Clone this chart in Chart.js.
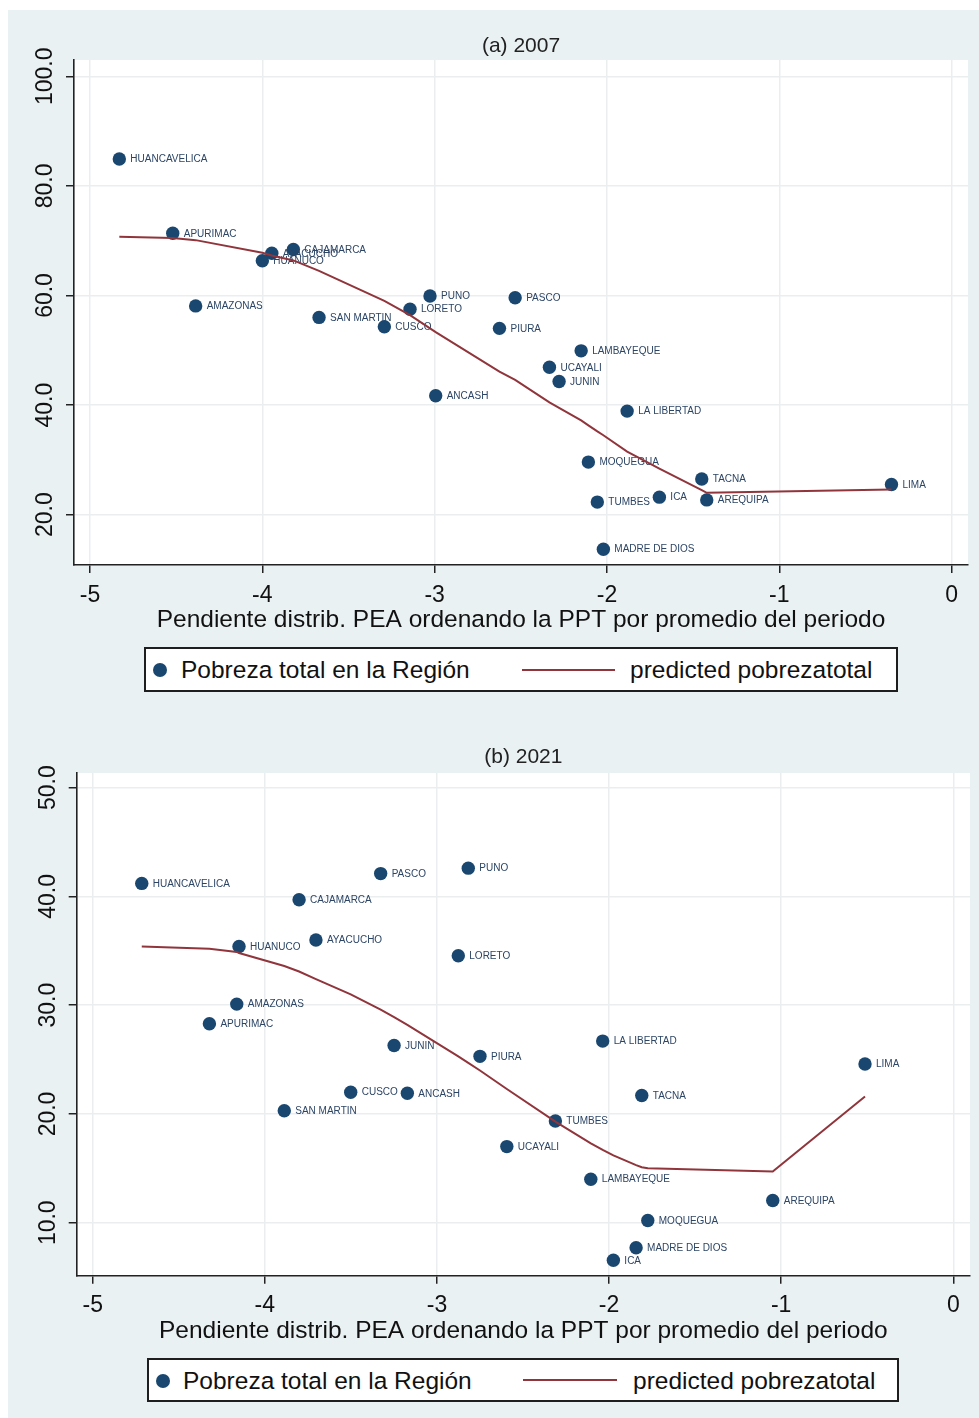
<!DOCTYPE html>
<html><head><meta charset="utf-8">
<script src="https://cdn.jsdelivr.net/npm/chart.js@4.4.1/dist/chart.umd.min.js"></script>
<style>
html,body{margin:0;padding:0;background:#fff;}
body{width:979px;height:1418px;position:relative;overflow:hidden;font-family:'Liberation Sans',Arial,sans-serif;}
#bg{position:absolute;left:8px;top:10px;width:971px;height:1408px;background:#eaf1f3;}
canvas{position:absolute;}
.legend{position:absolute;box-sizing:border-box;border:2px solid #1e1e1e;background:#fff;}
.legend .dot{position:absolute;width:14px;height:14px;border-radius:50%;background:#1a476f;}
.legend .ln{position:absolute;height:2px;background:#90353b;}
.legend .txt{position:absolute;font-size:24.5px;line-height:24.5px;color:#111;white-space:nowrap;}
</style></head>
<body>
<div id="bg"></div>
<canvas id="c1" width="971" height="630" style="left:8px;top:10px"></canvas>
<canvas id="c2" width="971" height="640" style="left:8px;top:710px"></canvas>
<div class="legend" style="left:144px;top:647px;width:754px;height:45px">
  <div class="dot" style="left:7px;top:14px"></div>
  <div class="txt" style="left:35px;top:8.5px">Pobreza total en la Región</div>
  <div class="ln" style="left:376px;top:20px;width:93px"></div>
  <div class="txt" style="left:484px;top:8.5px">predicted pobrezatotal</div>
</div>
<div class="legend" style="left:147px;top:1358px;width:752px;height:44px">
  <div class="dot" style="left:7px;top:14px"></div>
  <div class="txt" style="left:34px;top:8.5px">Pobreza total en la Región</div>
  <div class="ln" style="left:374px;top:19px;width:94px"></div>
  <div class="txt" style="left:484px;top:8.5px">predicted pobrezatotal</div>
</div>
<script>
// ---------------- DATA ----------------
const xTicks = [-5, -4, -3, -2, -1, 0];

const regions2007 = ["HUANCAVELICA","APURIMAC","AYACUCHO","HUANUCO","CAJAMARCA","AMAZONAS","SAN MARTIN","CUSCO","PUNO","LORETO","PASCO","PIURA","LAMBAYEQUE","UCAYALI","JUNIN","ANCASH","LA LIBERTAD","MOQUEGUA","TACNA","LIMA","TUMBES","ICA","AREQUIPA","MADRE DE DIOS"];
const slope2007 = [-4.83,-4.52,-3.945,-4.00,-3.82,-4.387,-3.671,-3.292,-3.027,-3.143,-2.533,-2.624,-2.150,-2.334,-2.278,-2.994,-1.883,-2.108,-1.450,-0.349,-2.056,-1.696,-1.421,-2.021];
const poverty2007 = [84.9,71.35,67.7,66.35,68.4,58.1,56.0,54.3,59.9,57.5,59.6,54.0,49.9,46.9,44.3,41.7,38.9,29.6,26.5,25.5,22.3,23.2,22.7,13.7];
const predicted2007 = [70.7,70.5,67.3,67.8,66.4,70.1,64.5,59.0,54.0,56.4,44.6,46.1,37.2,40.5,39.5,53.3,31.5,36.3,24.5,24.6,35.2,28.4,24.0,34.5];
const yTicks2007 = [20, 40, 60, 80, 100];

const regions2021 = ["HUANCAVELICA","PASCO","PUNO","CAJAMARCA","HUANUCO","AYACUCHO","LORETO","AMAZONAS","APURIMAC","JUNIN","PIURA","LA LIBERTAD","LIMA","CUSCO","ANCASH","SAN MARTIN","TACNA","TUMBES","UCAYALI","LAMBAYEQUE","AREQUIPA","MOQUEGUA","MADRE DE DIOS","ICA"];
const slope2021 = [-4.715,-3.327,-2.818,-3.801,-4.150,-3.703,-2.876,-4.163,-4.322,-3.249,-2.750,-2.037,-0.513,-3.501,-3.172,-3.887,-1.810,-2.312,-2.594,-2.106,-1.049,-1.775,-1.843,-1.975];
const poverty2021 = [41.2,42.1,42.6,39.7,35.4,36.0,34.55,30.1,28.3,26.3,25.3,26.7,24.6,22.0,21.9,20.3,21.7,19.35,17.0,14.0,12.05,10.2,7.7,6.55];
const predicted2021 = [35.4,29.6,24.7,33.1,34.8,32.4,25.3,34.9,35.2,28.9,24.0,16.7,21.6,31.0,28.2,33.6,15.1,19.3,22.3,17.3,14.7,15.0,15.3,16.2];
const yTicks2021 = [10, 20, 30, 40, 50];

const titles = ["(a) 2007", "(b) 2021"];
const xAxisTitle = "Pendiente distrib. PEA ordenando la PPT por promedio del periodo";
const seriesNames = ["Pobreza total en la Región", "predicted pobrezatotal"];

// ---------------- STYLE / LAYOUT ----------------
const FONT = "'Liberation Sans', Arial, Helvetica, sans-serif";
Chart.defaults.font.family = FONT;
const NAVY = '#1a476f', MAROON = '#90353b';

const areaBg = {
  id: 'areaBg',
  beforeDraw(chart) {
    const {ctx, chartArea: a} = chart;
    ctx.save(); ctx.fillStyle = '#ffffff';
    ctx.fillRect(a.left, a.top, a.right - a.left, a.bottom - a.top);
    ctx.restore();
  }
};
const pointLabels = {
  id: 'pointLabels',
  afterDatasetDraw(chart, args) {
    const ds = chart.data.datasets[args.index];
    if (!ds.names) return;
    const ctx = chart.ctx;
    ctx.save();
    ctx.font = '10px ' + FONT;
    ctx.fillStyle = '#2c4565';
    ctx.textBaseline = 'middle';
    ctx.textAlign = 'left';
    args.meta.data.forEach((el, i) => ctx.fillText(ds.names[i], el.x + 11, el.y + 0.5));
    ctx.restore();
  }
};

function makeChart(id, names, xs, ys, preds, yTicks, title, L) {
  const order = xs.map((v, i) => i).sort((a, b) => xs[a] - xs[b]);
  const lineData = order.map(i => ({x: xs[i], y: preds[i]}));
  const ptData = xs.map((v, i) => ({x: v, y: ys[i]}));
  return new Chart(document.getElementById(id), {
    type: 'scatter',
    data: {
      datasets: [
        {type: 'line', label: seriesNames[1], data: lineData, showLine: true, borderColor: MAROON,
         borderWidth: 2, pointRadius: 0, tension: 0, fill: false},
        {type: 'scatter', label: seriesNames[0], data: ptData, names: names, backgroundColor: NAVY,
         borderWidth: 0, pointRadius: 6.7}
      ]
    },
    options: {
      responsive: false, animation: false, events: [], devicePixelRatio: 1,
      layout: {padding: {left: 0, right: L.padRight, top: 0, bottom: 0}},
      plugins: {
        legend: {display: false}, tooltip: {enabled: false},
        title: {display: true, text: title, fullSize: false, color: '#222',
                font: {size: 21, weight: 'normal'}, padding: {top: L.titleTop, bottom: L.titleBottom}}
      },
      scales: {
        x: {
          type: 'linear', min: L.xMin, max: L.xMax,
          afterBuildTicks: s => { s.ticks = xTicks.map(v => ({value: v})); },
          afterFit: s => { s.height = L.xAxisH; },
          ticks: {color: '#111', font: {size: 23}, padding: L.xTickPad, maxRotation: 0, autoSkip: false,
                  callback: v => String(v)},
          grid: {color: '#ebeeef', lineWidth: 1.5, tickColor: '#222', tickLength: 8, tickWidth: 1.5},
          border: {display: true, color: '#222', width: 1.6},
          title: {display: true, text: xAxisTitle, color: '#111', font: {size: 24.5},
                  padding: {top: 0, bottom: L.xTitleBottom}}
        },
        y: {
          type: 'linear', min: L.yMin, max: L.yMax,
          afterBuildTicks: s => { s.ticks = yTicks.map(v => ({value: v})); },
          afterFit: s => { s.width = L.yAxisW; },
          ticks: {color: '#111', font: {size: 23}, padding: L.yTickPad, minRotation: 90, maxRotation: 90,
                  crossAlign: 'center', autoSkip: false, callback: v => Number(v).toFixed(1)},
          grid: {color: '#ebeeef', lineWidth: 1.5, tickColor: '#222', tickLength: 8, tickWidth: 1.5},
          border: {display: true, color: '#222', width: 1.6}
        }
      }
    },
    plugins: [areaBg, pointLabels]
  });
}

makeChart('c1', regions2007, slope2007, poverty2007, predicted2007, yTicks2007, titles[0], {
  xMin: -5.093, xMax: 0.095, yMin: 10.82, yMax: 102.97,
  padRight: 11, titleTop: 23.9, titleBottom: 0.9, xAxisH: 75, xTickPad: 8.7, xTitleBottom: 5.3,
  yAxisW: 66, yTickPad: -8.25
});
makeChart('c2', regions2021, slope2021, poverty2021, predicted2021, yTicks2021, titles[1], {
  xMin: -5.093, xMax: 0.097, yMin: 5.13, yMax: 51.35,
  padRight: 9, titleTop: 34.9, titleBottom: 2.9, xAxisH: 74.3, xTickPad: 8.5, xTitleBottom: 4.3,
  yAxisW: 68.7, yTickPad: -2.7
});
</script>
</body></html>
